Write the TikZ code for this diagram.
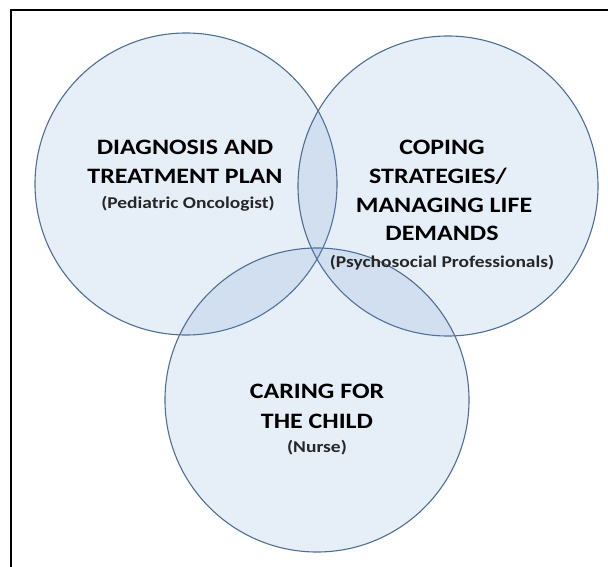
\documentclass[tikz,border=0pt]{standalone}
\usepackage{fontspec}
\setmainfont{Carlito}[FakeStretch=1.18]
\definecolor{circfill}{RGB}{90,140,200}
\definecolor{circline}{RGB}{80,110,145}
\tikzset{
  venn/.style={circle, draw=circline, line width=1.1pt, fill=circfill, fill opacity=0.15, draw opacity=1, minimum size=#1, inner sep=0pt},
  title/.style={font=\bfseries\fontsize{22}{26}\selectfont, anchor=base, inner sep=0pt, text=black},
  sub/.style={font=\bfseries\fontsize{16.5}{20}\selectfont, anchor=base, inner sep=0pt, text=black!85},
  frame/.style={draw=black, line width=1.5pt}
}
\begin{document}
\begin{tikzpicture}[x=1pt,y=-1pt]
\useasboundingbox (0,0) rectangle (608,567);
\coordinate (tl) at (11,10);
\coordinate (tr) at (608,10);
\coordinate (bl) at (11,567);
\draw[frame] (tr) -- (tl) -- (bl);
\node[venn=302pt] (c1) at (186,184) {};
\node[venn=300pt] (c2) at (448,186) {};
\node[venn=304pt] (c3) at (317,400) {};
% left
\node[title] (l1) at (185,155) {DIAGNOSIS AND};
\node[title] (l2) at (185,184) {TREATMENT PLAN};
\node[sub] (l3) at (188,208) {(Pediatric Oncologist)};
% right
\node[title] (r1) at (442,155) {COPING};
\node[title] (r2) at (438,184) {STRATEGIES/};
\node[title] (r3) at (444,212) {MANAGING LIFE};
\node[title] (r4) at (442,240) {DEMANDS};
\node[sub] (r5) at (442,267) {(Psychosocial Professionals)};
% bottom
\node[title] (b1) at (317,398) {CARING FOR};
\node[title] (b2) at (317,428) {THE CHILD};
\node[sub] (b3) at (317,452) {(Nurse)};
\end{tikzpicture}
\end{document}
